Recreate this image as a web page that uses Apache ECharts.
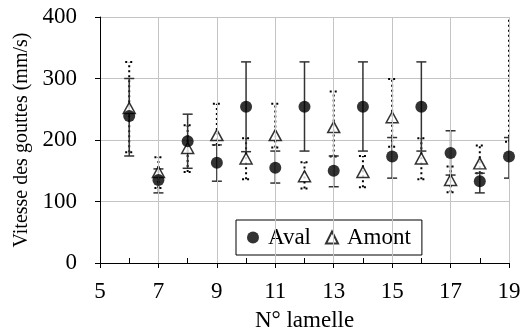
<!DOCTYPE html>
<html>
<head>
<meta charset="utf-8">
<script src="https://cdn.jsdelivr.net/npm/echarts@6/dist/echarts.min.js"></script>
<style>
  html, body { margin: 0; padding: 0; background: #fff; }
  #chart { width: 523px; height: 330px; }
</style>
</head>
<body>
<div id="chart"></div>
<script>
// N° lamelle
var lamelle = [6, 7, 8, 9, 10, 11, 12, 13, 14, 15, 16, 17, 18, 19];
// Aval : moyenne et barres d'erreur
var aval = [239, 135, 198, 163, 254, 155, 254, 150, 254, 173, 254, 179, 133, 173];
var avalLow = [174, 114, 154, 133, 181, 130, 182, 124, 182, 138, 182, 143, 114, 138];
var avalHigh = [300, 153, 242, 192, 327, 182, 327, 174, 327, 204, 327, 215, 146, 204];
// Amont (le point 19 sort du graphe)
var amont = [252, 148, 187, 208, 170, 208, 141, 221, 148, 237, 170, 135, 162, 420];
var amontLow = [180, 122, 148, 192, 136, 188, 121, 173, 123, 189, 136, 115, 146, 197];
var amontHigh = [327, 172, 224, 259, 203, 259, 164, 279, 174, 299, 203, 157, 191, 643];
var xTicks = [5, 7, 9, 11, 13, 15, 17, 19];

var font = 'Liberation Serif';
var chart = echarts.init(document.getElementById('chart'));

function errorBar(color, width, dash, capW) {
	return function (params, api) {
		var x = api.value(0);
		var lo = api.coord([x, api.value(1)]);
		var hi = api.coord([x, api.value(2)]);
		var style = { stroke: color, lineWidth: width, lineDash: dash, fill: null };
		return {
			type: 'group',
			children: [
				{ type: 'line', shape: { x1: lo[0], y1: lo[1], x2: hi[0], y2: hi[1] }, style: style },
				{ type: 'line', shape: { x1: lo[0] - capW, y1: lo[1], x2: lo[0] + capW, y2: lo[1] }, style: style },
				{ type: 'line', shape: { x1: hi[0] - capW, y1: hi[1], x2: hi[0] + capW, y2: hi[1] }, style: style }
			]
		};
	};
}

var option = {
	animation: false,
	backgroundColor: '#fff',
	textStyle: { fontFamily: font, color: '#000' },
	grid: [
		{ left: 100, right: 14, top: 17, bottom: 67, containLabel: false, outerBoundsMode: 'none' },
		{ left: 100, right: 14, top: 17, bottom: 67, containLabel: false, outerBoundsMode: 'none' }
	],
	xAxis: [{
		type: 'value',
		min: 5, max: 19, interval: 1,
		name: 'N° lamelle',
		nameLocation: 'middle',
		nameGap: 46,
		nameTextStyle: { fontFamily: font, fontSize: 23, color: '#000' },
		axisLine: { lineStyle: { color: '#000', width: 1 } },
		axisTick: { inside: true, length: 5, lineStyle: { color: '#000' } },
		axisLabel: {
			fontFamily: font, fontSize: 23, color: '#000', margin: 17,
			formatter: function (v) { return xTicks.indexOf(v) >= 0 ? v : ''; }
		},
		splitLine: { show: false }
	}, {
		type: 'value', gridIndex: 1,
		min: 5, max: 19, interval: 1,
		axisLine: { show: false },
		axisTick: { length: 5, customValues: xTicks, lineStyle: { color: '#000' } },
		axisLabel: { show: false },
		splitLine: { show: false }
	}],
	yAxis: [{
		type: 'value',
		min: 0, max: 400, interval: 100,
		name: 'Vitesse des gouttes (mm/s)',
		nameLocation: 'middle',
		nameGap: 68,
		nameTextStyle: { fontFamily: font, fontSize: 20, color: '#000' },
		axisLine: { show: true, lineStyle: { color: '#000', width: 1 } },
		axisTick: { show: true, length: 5, lineStyle: { color: '#000' } },
		axisLabel: { fontFamily: font, fontSize: 23, color: '#000', margin: 23 },
		splitLine: { show: true, lineStyle: { color: '#c4c4c4', width: 1 } }
	}, {
		type: 'value', gridIndex: 1, min: 0, max: 400, show: false
	}],
	legend: {
		data: ['Aval', 'Amont'],
		left: 236, top: 220,
		padding: [6, 11, 6, 11],
		itemWidth: 12, itemHeight: 12,
		itemGap: 14,
		borderColor: '#000', borderWidth: 1,
		backgroundColor: '#fff',
		textStyle: { fontFamily: font, fontSize: 23, color: '#000', padding: [0, 0, 0, 4] }
	},
	series: [{
		// quadrillage vertical aux graduations impaires
		name: 'grille',
		type: 'scatter',
		data: [],
		silent: true,
		markLine: {
			silent: true,
			symbol: 'none',
			label: { show: false },
			lineStyle: { color: '#c4c4c4', width: 1, type: 'solid' },
			data: xTicks.slice(1).map(function (v) { return { xAxis: v }; })
		},
		z: 1
	}, {
		name: 'errAmont',
		type: 'custom',
		clip: true,
		renderItem: errorBar('#000', 2, [2, 3], 4),
		encode: { x: 0, y: [1, 2] },
		data: lamelle.map(function (x, i) { return [x, amontLow[i], amontHigh[i]]; }),
		z: 2
	}, {
		name: 'errAval',
		type: 'custom',
		clip: true,
		renderItem: errorBar('#333', 1.5, null, 5),
		encode: { x: 0, y: [1, 2] },
		data: lamelle.map(function (x, i) { return [x, avalLow[i], avalHigh[i]]; }),
		z: 3
	}, {
		name: 'Amont',
		type: 'scatter',
		symbol: 'triangle',
		symbolSize: [12, 11],
		itemStyle: { color: '#fff', borderColor: '#000', borderWidth: 1.5 },
		data: lamelle.map(function (x, i) { return [x, amont[i]]; }),
		z: 4
	}, {
		name: 'Aval',
		type: 'scatter',
		symbol: 'circle',
		symbolSize: 12,
		itemStyle: { color: '#000' },
		data: lamelle.map(function (x, i) { return [x, aval[i]]; }),
		z: 5
	}]
};
chart.setOption(option);
</script>
</body>
</html>
